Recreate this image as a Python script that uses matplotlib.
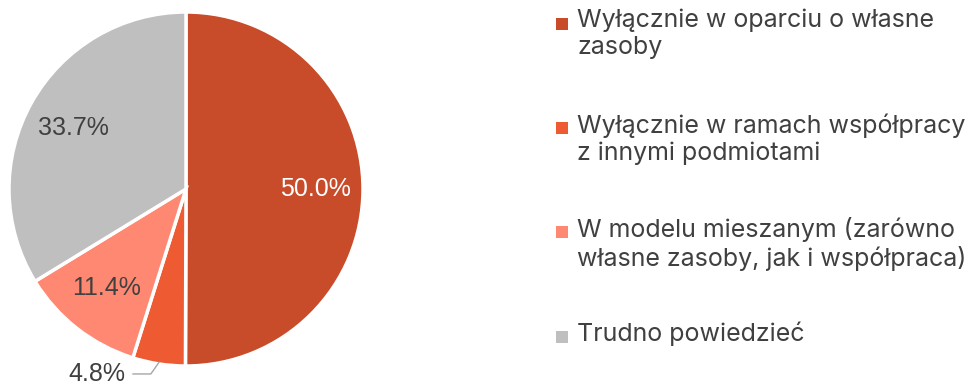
import matplotlib
matplotlib.use("Agg")
import matplotlib.pyplot as plt
import matplotlib.patches as patches
import numpy as np

# udział odpowiedzi (%)
categories = [
    "Wyłącznie w oparciu o własne\nzasoby",
    "Wyłącznie w ramach współpracy\nz innymi podmiotami",
    "W modelu mieszanym (zarówno\nwłasne zasoby, jak i współpraca)",
    "Trudno powiedzieć",
]
values = [50.0, 4.8, 11.4, 33.7]
colors = ["#C84B2A", "#EE5B33", "#FF8872", "#BFBFBF"]
label_colors = ["white", "#404040", "#404040", "#404040"]

W, H = 972, 387
fig = plt.figure(figsize=(W / 100, H / 100), dpi=100)

# pie placed by pixel centre and radius
cx, cy, r = 186, 189, 177
ax = fig.add_axes([(cx - r) / W, (H - cy - r) / H, 2 * r / W, 2 * r / H])
wedges, _ = ax.pie(values, colors=colors, startangle=90, counterclock=False,
                   radius=1.0, wedgeprops=dict(edgecolor="white", linewidth=2.5))
ax.set_xlim(-1, 1)
ax.set_ylim(-1, 1)
ax.set_aspect("equal")
ax.axis("off")

for w, v, tc in zip(wedges, values, label_colors):
    ang = np.deg2rad((w.theta1 + w.theta2) / 2)
    x, y = np.cos(ang), np.sin(ang)
    txt = f"{v:.1f}%"
    if v < 6:
        # small slice: label outside with a leader line
        ax.annotate(txt, xy=(x * 0.99, y * 0.99), xytext=(-0.34, -1.045),
                    ha="right", va="center", fontsize=18, color=tc,
                    family="Liberation Sans", annotation_clip=False,
                    arrowprops=dict(arrowstyle="-", color="#A6A6A6", lw=1,
                                    connectionstyle="angle,angleA=0,angleB=55,rad=0",
                                    shrinkA=3, shrinkB=0))
    else:
        ax.text(x * 0.73, y * 0.71, txt, ha="center", va="center",
                fontsize=18, color=tc, family="Liberation Sans")

# legend drawn by hand
leg_x = 556 / W
item_y = [24, 128, 232, 337]
for lab, col, yy in zip(categories, colors, item_y):
    fig.patches.append(patches.Rectangle((leg_x, (H - yy - 6) / H), 12 / W, 12 / H,
                                         transform=fig.transFigure, facecolor=col,
                                         edgecolor="none"))
    fig.text(577 / W, (H - yy + 15) / H, lab, ha="left", va="top",
             fontsize=18, color="#404040", family="Inter", linespacing=1.22)

fig.savefig("out.png", dpi=100)
